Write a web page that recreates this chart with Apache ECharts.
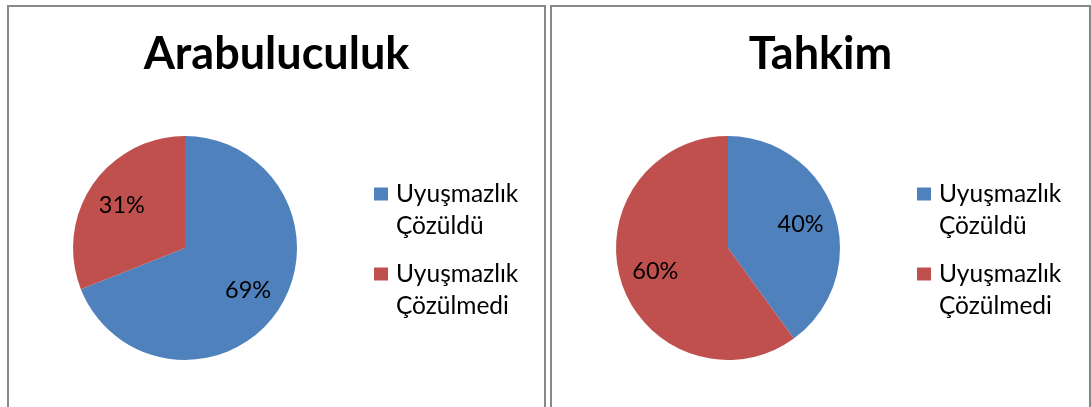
<!DOCTYPE html>
<html>
<head>
<meta charset="utf-8">
<script src="https://cdn.jsdelivr.net/npm/echarts@6/dist/echarts.min.js"></script>
<style>
body{
  margin:0;
  background:#fff;
  width:1091px;
  height:407px;
  overflow:hidden;
  position:relative;
}
.panel{
  position:absolute;
  top:5px;
  height:420px;
  border:2px solid #888;
  border-bottom:none;
}
#chartLeft{ left:7px; width:535px; }
#chartRight{ left:550px; width:537px; }
</style>
</head>
<body>
<div class="panel" id="chartLeft"></div>
<div class="panel" id="chartRight"></div>
<script>
// categories + values
var categories = ['Uyuşmazlık Çözüldü', 'Uyuşmazlık Çözülmedi']
var arabuluculukValues = [69, 31]
var tahkimValues = [40, 60]
var titles = ['Arabuluculuk', 'Tahkim']
var colors = ['#4F81BD', '#C0504D']

function makeOption(title, values, cx){
  var data = []
  for (let i in categories) {
    data.push({ name: categories[i], value: values[i] })
  }
  var r = 112
  return {
    color: colors,
    animation: false,
    title: {
      text: title,
      left: 'center',
      top: 20,
      textStyle: {
        fontFamily: 'Lato',
        fontWeight: 'bold',
        fontSize: 45,
        color: '#000'
      }
    },
    legend: {
      orient: 'vertical',
      left: 365,
      top: 139,
      padding: 0,
      itemWidth: 14,
      itemHeight: 13,
      itemGap: -16,
      icon: 'rect',
      selectedMode: false,
      // empty first line so the square sits next to the first text line
      formatter: function (name) {
        return '\n' + name.replace(' ', '\n')
      },
      textStyle: {
        fontFamily: 'Lato',
        fontSize: 24.5,
        lineHeight: 32,
        color: '#000',
        padding: [0, 0, 0, 3]
      },
      data: categories
    },
    series: [
      {
        type: 'pie',
        center: [cx, 241],
        radius: [0, r],
        startAngle: 90,
        clockwise: true,
        silent: true,
        label: { show: false },
        labelLine: { show: false },
        data: data
      },
      {
        // transparent ring only used to put the % labels further out
        type: 'pie',
        center: [cx, 241],
        radius: [r * 0.31, r],
        startAngle: 90,
        clockwise: true,
        silent: true,
        itemStyle: { color: 'rgba(0,0,0,0)' },
        label: {
          show: true,
          position: 'inside',
          formatter: '{c}%',
          fontFamily: 'Lato',
          fontSize: 23.5,
          color: '#000'
        },
        labelLine: { show: false },
        data: data
      }
    ]
  }
}

var left = echarts.init(document.getElementById('chartLeft'))
left.setOption(makeOption(titles[0], arabuluculukValues, 176))
var right = echarts.init(document.getElementById('chartRight'))
right.setOption(makeOption(titles[1], tahkimValues, 176))
</script>
</body>
</html>
